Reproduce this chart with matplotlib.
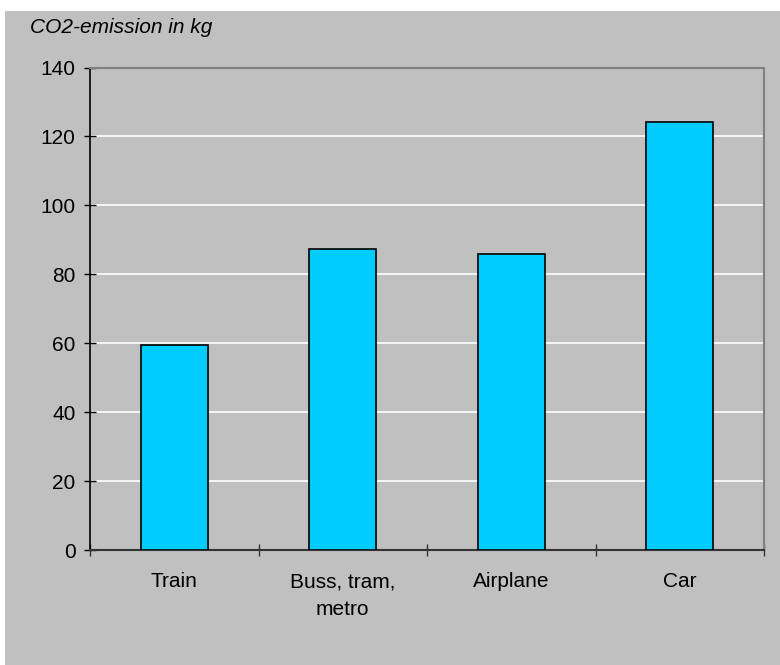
import matplotlib
matplotlib.use("Agg")
import matplotlib.pyplot as plt
import numpy as np

categories = ["Train", "Buss, tram,\nmetro", "Airplane", "Car"]
emissions = [59.5, 87.3, 85.9, 124.3]
y_ticks = [0, 20, 40, 60, 80, 100, 120, 140]

plt.rcParams["font.family"] = ["Liberation Sans", "DejaVu Sans"]

W, H = 780, 665
fig = plt.figure(figsize=(W / 100, H / 100), dpi=100)
fig.patch.set_facecolor("white")

# grey chart area
bg = plt.Rectangle((5 / W, 0), 1 - 5 / W, 1 - 11 / H, transform=fig.transFigure,
                   facecolor="#C0C0C0", edgecolor="none", zorder=-10)
fig.patches.append(bg)

left, right, top, bottom = 90, 764, 67.5, 550
ax = fig.add_axes([left / W, 1 - bottom / H, (right - left) / W, (bottom - top) / H])
ax.set_facecolor("#C0C0C0")

x = np.arange(len(categories))
ax.bar(x, emissions, width=0.4, color="#00CCFF", edgecolor="black", linewidth=1.2, zorder=3)

ax.set_xlim(-0.5, len(categories) - 0.5)
ax.set_ylim(0, 140)
ax.set_yticks(y_ticks)
ax.set_yticklabels([str(v) for v in y_ticks], fontsize=15)
ax.yaxis.grid(True, color="white", linewidth=1.2, zorder=0)
ax.set_axisbelow(True)

ax.set_xticks(np.arange(len(categories) + 1) - 0.5)
ax.set_xticklabels([])
ax.set_xticks(x, minor=True)
ax.set_xticklabels(categories, minor=True, fontsize=15, linespacing=1.6)
ax.tick_params(axis="x", which="minor", length=0, pad=16)
ax.tick_params(axis="x", which="major", direction="inout", length=9, width=1, color="#333333")
ax.tick_params(axis="y", direction="inout", length=9, width=1, pad=6, color="black")

for side in ["top", "right"]:
    ax.spines[side].set_color("#808080")
    ax.spines[side].set_linewidth(1.5)
ax.spines["left"].set_color("black")
ax.spines["left"].set_linewidth(1.2)
ax.spines["bottom"].set_color("#333333")
ax.spines["bottom"].set_linewidth(1.5)

fig.text(30 / W, 1 - 33 / H, "CO2-emission in kg", fontsize=15, style="italic",
         ha="left", va="baseline")

fig.savefig("out.png", dpi=100)
